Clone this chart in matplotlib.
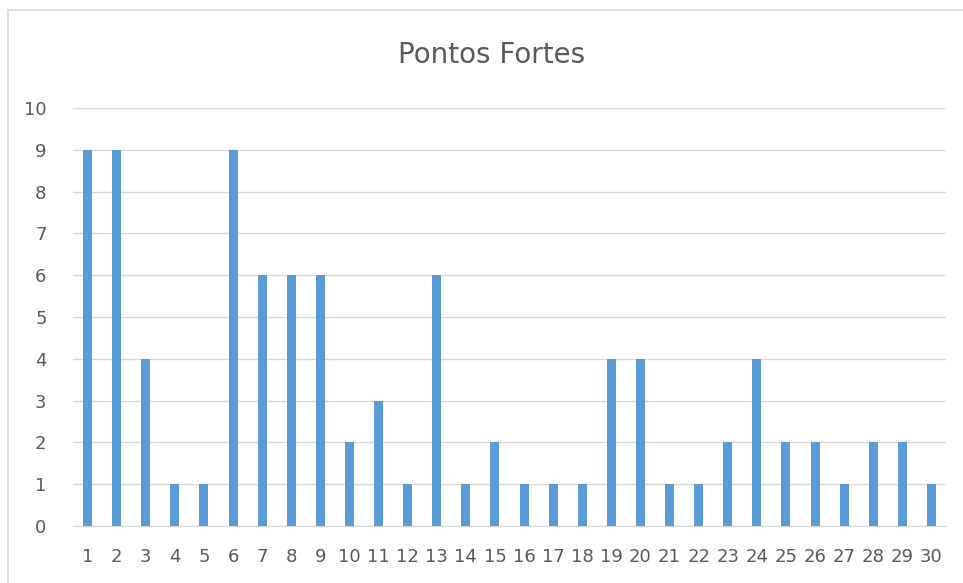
import matplotlib.pyplot as plt
from matplotlib.patches import Rectangle

# Data
categories = list(range(1, 31))
values = [9, 9, 4, 1, 1, 9, 6, 6, 6, 2, 3, 1, 6, 1, 2, 1, 1, 1, 4, 4,
          1, 1, 2, 4, 2, 2, 1, 2, 2, 1]

W, H = 963, 583
fig = plt.figure(figsize=(W / 100, H / 100), dpi=100)

# light outer frame like the spreadsheet chart
fig.patches.append(Rectangle((8 / W, -0.1), 1.2, (H - 10) / H + 0.1,
                             transform=fig.transFigure, fill=False,
                             edgecolor='#d9d9d9', linewidth=1.2))

ax = fig.add_axes([73 / W, (H - 526) / H, 873 / W, (526 - 108) / H])
ax.bar(categories, values, width=0.31, color='#5b9bd5', zorder=3)

ax.set_xlim(0.5, 30.5)
ax.set_ylim(0, 10)
ax.set_yticks(range(0, 11))
ax.set_xticks(categories)
ax.grid(axis='y', color='#d9d9d9', linewidth=1, zorder=0)
for side in ['top', 'right', 'left']:
    ax.spines[side].set_visible(False)
ax.spines['bottom'].set_color('#d9d9d9')
ax.tick_params(length=0, colors='#595959', labelsize=13)
ax.tick_params(axis='x', pad=16)
ax.tick_params(axis='y', pad=19)

fig.text(492 / W, 1 - 55 / H, 'Pontos Fortes', ha='center', va='center',
         fontsize=20, color='#595959')

fig.savefig('out.png', dpi=100)
